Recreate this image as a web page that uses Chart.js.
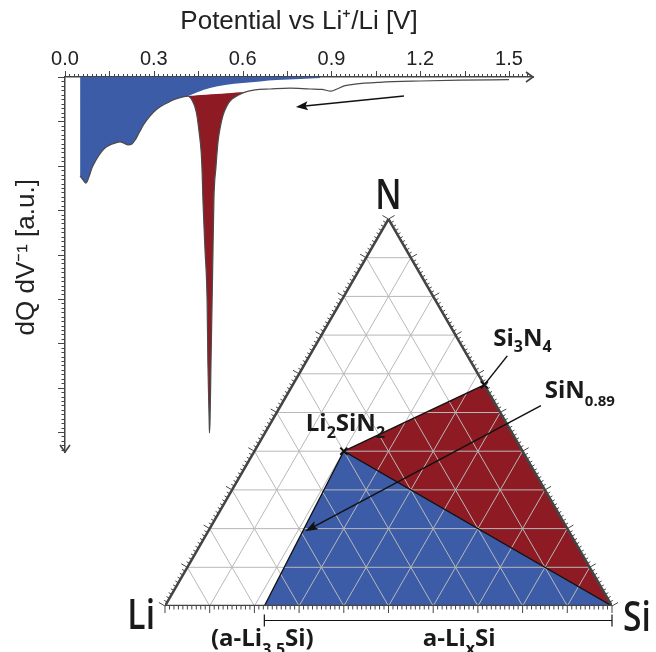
<!DOCTYPE html>
<html><head><meta charset="utf-8">
<script src="https://cdn.jsdelivr.net/npm/chart.js@4.4.1/dist/chart.umd.min.js"></script>
<style>
html,body{margin:0;padding:0;background:#fff;}
#wrap{position:relative;width:656px;height:652px;overflow:hidden;}
#wrap canvas{position:absolute;left:0;top:0;}
</style></head><body>
<div id="wrap"><canvas id="dq" width="656" height="652"></canvas><canvas id="tern" width="656" height="652"></canvas></div>
<script>
// ---------------- dQ/dV curve ----------------
const potential = [0.051,0.061,0.071,0.081,0.091,0.105,0.118,0.135,0.152,0.169,0.186,0.199,0.213,0.226,0.237,0.250,0.267,0.287,0.311,0.338,0.372,0.416,0.429,0.439,0.446,0.453,0.460,0.463,0.466,0.473,0.480,0.483,0.487,0.488,0.490,0.493,0.497,0.500,0.503,0.510,0.517,0.524,0.534,0.547,0.564,0.585,0.608,0.642,0.693,0.760,0.828,0.868,0.899,0.919,0.943,0.980,1.064,1.199,1.335,1.500];
const dqdv = [-2.23,-2.32,-2.39,-2.25,-2.05,-1.87,-1.73,-1.60,-1.53,-1.49,-1.46,-1.49,-1.53,-1.51,-1.42,-1.26,-1.06,-0.88,-0.72,-0.61,-0.50,-0.43,-0.52,-0.68,-0.88,-1.24,-1.69,-2.10,-2.77,-3.90,-5.02,-6.53,-7.73,-8.02,-7.73,-6.53,-5.02,-3.90,-2.77,-2.03,-1.46,-1.15,-0.86,-0.65,-0.50,-0.41,-0.34,-0.29,-0.27,-0.25,-0.27,-0.28,-0.32,-0.27,-0.20,-0.16,-0.12,-0.09,-0.07,-0.06];
// lower edge of the blue area beyond the start of the sharp peak
const blueTailV = [0.449,0.490,0.541,0.601,0.659,0.716,0.794,0.862];
const blueTailY = [-0.34,-0.25,-0.18,-0.135,-0.10,-0.07,-0.045,-0.02];
// sharp peak (red) bounds in V
const peakRange = [0.416, 0.608];
const xTickLabels = ['0.0','0.3','0.6','0.9','1.2','1.5'];
const xTickValues = [0.0,0.3,0.6,0.9,1.2,1.5];
const sweepArrow = [[1.145,-0.43],[0.78,-0.676]];

// ---------------- ternary Li–Si–N diagram (fractions Li, Si, N) ----------------
const vertexNames = ['Li','Si','N'];
const compLi = [1,0,0], compSi = [0,1,0], compN = [0,0,1];
const compLi2SiN2 = [0.4,0.2,0.4];
const compSi3N4 = [0,3/7,4/7];
const compLi35Si = [3.5/4.5,1/4.5,0];
const compSiN089 = [0,1/1.89,0.89/1.89];
const lithiationPathT = [-0.10, 0.59];   // along SiN0.89 -> Li
const gridFractions = [0.1,0.2,0.3,0.4,0.5,0.6,0.7,0.8,0.9];

const BLUE = '#3c5ca8', RED = '#8e1b23';
const S3 = Math.sqrt(3)/2;
const tern = c => ({x: c[1] + c[2]/2, y: c[2]*S3});

Chart.defaults.font.family = 'Liberation Sans';
Chart.defaults.animation = false;

// ---------------- chart A : dQ/dV ----------------
const curvePts = potential.map((v,i)=>({x:v,y:dqdv[i]}));
const bluePts = curvePts.filter(p=>p.x<=peakRange[0]+1e-9).concat(blueTailV.map((v,i)=>({x:v,y:blueTailY[i]})));
const redPts = curvePts.filter(p=>p.x>=peakRange[0]-1e-9 && p.x<=peakRange[1]+1e-9);
const chordPts = [redPts[0], redPts[redPts.length-1]];

function arrowHead(ctx,x0,y0,x1,y1,len,half){
  const a=Math.atan2(y1-y0,x1-x0), c=Math.cos(a), s=Math.sin(a);
  ctx.beginPath();
  ctx.moveTo(x1,y1);
  ctx.lineTo(x1-len*c+half*s, y1-len*s-half*c);
  ctx.lineTo(x1-len*c*0.8, y1-len*s*0.8);
  ctx.lineTo(x1-len*c-half*s, y1-len*s+half*c);
  ctx.closePath(); ctx.fill();
}
function seg(ctx,a,b,c,d){ctx.beginPath();ctx.moveTo(a,b);ctx.lineTo(c,d);ctx.stroke();}

const dqDecor = {id:'dqDecor', afterDraw(chart){
  const {ctx, scales:{x,y}, chartArea:ca} = chart;
  ctx.save();
  ctx.strokeStyle='#444'; ctx.lineWidth=1;
  for(let i=0;i*0.015<=1.56;i++){
    const px=Math.round(x.getPixelForValue(i*0.015))+0.5;
    seg(ctx,px,ca.top,px,ca.top-(i%10===0?6:3));
  }
  for(let i=0;i*0.1<=8.41;i++){
    const py=Math.round(y.getPixelForValue(-i*0.1))+0.5;
    seg(ctx,ca.left,py,ca.left-(i%10===0?7:3.5),py);
  }
  ctx.lineWidth=1.6;
  ctx.beginPath();ctx.moveTo(ca.right-7,ca.top-5);ctx.lineTo(ca.right,ca.top);ctx.lineTo(ca.right-7,ca.top+5);ctx.stroke();
  ctx.beginPath();ctx.moveTo(ca.left-5,ca.bottom-7);ctx.lineTo(ca.left,ca.bottom);ctx.lineTo(ca.left+5,ca.bottom-7);ctx.stroke();
  const x0=x.getPixelForValue(sweepArrow[0][0]), y0=y.getPixelForValue(sweepArrow[0][1]);
  const x1=x.getPixelForValue(sweepArrow[1][0]), y1=y.getPixelForValue(sweepArrow[1][1]);
  ctx.strokeStyle='#111'; ctx.fillStyle='#111'; ctx.lineWidth=1.5;
  const a=Math.atan2(y1-y0,x1-x0);
  seg(ctx,x0,y0,x1-9*Math.cos(a),y1-9*Math.sin(a));
  arrowHead(ctx,x0,y0,x1,y1,12,4.5);
  ctx.restore();
}};

new Chart(document.getElementById('dq'), {
  type:'scatter',
  data:{datasets:[
    {label:'dQ/dV', data:curvePts, showLine:true, borderColor:'#4a4a4a', borderWidth:1.2, pointRadius:0, fill:false, order:0, cubicInterpolationMode:'monotone'},
    {label:'blue', data:bluePts, showLine:true, borderColor:'transparent', borderWidth:0, backgroundColor:BLUE, pointRadius:0, fill:'origin', order:2, cubicInterpolationMode:'monotone'},
    {label:'red', data:redPts, showLine:true, borderColor:'transparent', borderWidth:0, backgroundColor:RED, pointRadius:0, fill:{target:3}, order:2, cubicInterpolationMode:'monotone'},
    {label:'chord', data:chordPts, showLine:true, borderColor:'transparent', borderWidth:0, pointRadius:0, fill:false, order:3, tension:0.0001}
  ]},
  options:{
    responsive:false, devicePixelRatio:1, events:[],
    layout:{padding:{left:0,top:0,right:123,bottom:200}},
    plugins:{legend:{display:false},tooltip:{enabled:false}},
    scales:{
      x:{type:'linear', position:'top', min:0, max:1.581,
        afterFit:s=>{s.height=77;},
        grid:{drawOnChartArea:false, drawTicks:false},
        border:{display:true,color:'#444',width:1.5},
        ticks:{stepSize:0.3, includeBounds:false, autoSkip:false, maxRotation:0, minRotation:0, padding:6, color:'#222', font:{size:20},
          callback:v=>{const k=xTickValues.findIndex(t=>Math.abs(t-v)<1e-6);return k<0?'':xTickLabels[k];}},
        title:{display:true, text:'Potential vs Li\u207A/Li [V]', color:'#222', font:{size:26}, padding:{top:6,bottom:0}}
      },
      y:{type:'linear', position:'left', min:-8.45, max:0,
        afterFit:s=>{s.width=65;},
        grid:{drawOnChartArea:false, drawTicks:false},
        border:{display:true,color:'#444',width:1.5},
        ticks:{display:false},
        title:{display:true, text:'  dQ dV\u207B\u00B9 [a.u.]', color:'#222', font:{size:26}, padding:11}
      }
    }
  },
  plugins:[dqDecor]
});

// ---------------- chart B : ternary ----------------
const gridSegs = [];
gridFractions.forEach(f=>{
  gridSegs.push([[1-f,0,f],[0,1-f,f]]);
  gridSegs.push([[f,1-f,0],[f,0,1-f]]);
  gridSegs.push([[1-f,f,0],[0,f,1-f]]);
});

function drawRich(ctx, runs, x, y, align, mainFont, subFont, drop){
  let w=0;
  runs.forEach(r=>{ctx.font=r[1]?subFont:mainFont; w+=ctx.measureText(r[0]).width;});
  let cx = align==='center'? x-w/2 : align==='right'? x-w : x;
  runs.forEach(r=>{ctx.font=r[1]?subFont:mainFont; ctx.fillText(r[0],cx,y+(r[1]?drop:0)); cx+=ctx.measureText(r[0]).width;});
}
function drawScaled(ctx,text,x,y,align,font,hs){
  ctx.save(); ctx.font=font; const w=ctx.measureText(text).width*hs;
  const sx = align==='center'? x-w/2 : align==='right'? x-w : x;
  ctx.translate(sx,y); ctx.scale(hs,1); ctx.fillText(text,0,0); ctx.restore();
}

const ternDecor = {id:'ternDecor', afterDraw(chart){
  const {ctx, scales:{x,y}} = chart;
  const P = c=>{const t=tern(c);return [x.getPixelForValue(t.x), y.getPixelForValue(t.y)];};
  const A=P(compLi), B=P(compSi), C=P(compN);
  ctx.save();
  ctx.strokeStyle='#444'; ctx.lineWidth=1;
  const edges=[[A,B,[0,1]],[A,C,[-S3,-0.5]],[B,C,[S3,-0.5]]];
  edges.forEach(([p,q,n])=>{
    for(let k=0;k<=100;k++){
      const px=p[0]+(q[0]-p[0])*k/100, py=p[1]+(q[1]-p[1])*k/100;
      const L = k%10===0?7:3.5;
      seg(ctx,px,py,px+n[0]*L,py+n[1]*L);
    }
  });
  const s0=P(compSiN089);
  const at=t=>[s0[0]+(A[0]-s0[0])*t, s0[1]+(A[1]-s0[1])*t];
  const a0=at(lithiationPathT[0]), a1=at(lithiationPathT[1]);
  ctx.strokeStyle='#111'; ctx.fillStyle='#111'; ctx.lineWidth=1.5;
  const ang=Math.atan2(a1[1]-a0[1],a1[0]-a0[0]);
  seg(ctx,a0[0],a0[1],a1[0]-9*Math.cos(ang),a1[1]-9*Math.sin(ang));
  arrowHead(ctx,a0[0],a0[1],a1[0],a1[1],13,4.5);
  const q=P(compSi3N4);
  seg(ctx,q[0],q[1],q[0]+23,q[1]-29);
  const b0=P(compLi35Si);
  const by=b0[1]+14.5;
  ctx.lineWidth=1.2;
  seg(ctx,b0[0],by,B[0],by); seg(ctx,b0[0],by-6,b0[0],by+6); seg(ctx,B[0],by-6,B[0],by+6);
  ctx.fillStyle='#1a1a1a'; ctx.textBaseline='alphabetic';
  const big='600 42px "Open Sans"';
  drawScaled(ctx,vertexNames[2],C[0],C[1]-10,'center',big,0.8);
  drawScaled(ctx,vertexNames[0],A[0]-10,A[1]+23,'right',big,0.8);
  drawScaled(ctx,vertexNames[1],B[0]+11,B[1]+25,'left',big,0.8);
  const mf='700 24px "Open Sans"', sf='700 16px "Open Sans"', sf2='700 15px "Open Sans"';
  const l=P(compLi2SiN2);
  drawRich(ctx,[['Li',0],['2',1],['SiN',0],['2',1]],l[0]-38,l[1]-20,'left',mf,sf,7);
  drawRich(ctx,[['Si',0],['3',1],['N',0],['4',1]],q[0]+9,q[1]-39,'left',mf,sf,6);
  drawRich(ctx,[['SiN',0],['0.89',1]],s0[0]+38,s0[1]-26,'left',mf,sf2,8);
  drawRich(ctx,[['(a-Li',0],['3.5',1],['Si)',0]],b0[0]-2,b0[1]+40,'center',mf,sf,9);
  drawRich(ctx,[['a-Li',0],['x',1],['Si',0]],(b0[0]+B[0])/2+21,b0[1]+40,'center',mf,sf,8);
  ctx.restore();
}};

const tDatasets = [
  {label:'red region', data:[compLi2SiN2,compSi3N4,compSi].map(tern), fill:{target:1}, backgroundColor:RED, borderColor:'transparent', borderWidth:0, order:10},
  {label:'red base', data:[compLi2SiN2,compSi].map(tern), fill:false, borderColor:'transparent', borderWidth:0, order:10},
  {label:'blue region', data:[compLi35Si,compLi2SiN2,compSi].map(tern), fill:'origin', backgroundColor:BLUE, borderColor:'transparent', borderWidth:0, order:10}
];
gridSegs.forEach(g=>tDatasets.push({data:g.map(tern), borderColor:'#b8b8b8', borderWidth:1, fill:false, order:5}));
tDatasets.push({label:'boundary1', data:[compLi35Si,compLi2SiN2,compSi].map(tern), borderColor:'#111', borderWidth:1.3, fill:false, order:3});
tDatasets.push({label:'boundary2', data:[compLi2SiN2,compSi3N4].map(tern), borderColor:'#111', borderWidth:1.3, fill:false, order:3});
tDatasets.push({label:'edges', data:[compLi,compSi,compN,compLi].map(tern), borderColor:'#444', borderWidth:2.5, fill:false, order:2, borderJoinStyle:'miter'});
tDatasets.forEach(d=>{d.showLine=true; d.pointRadius=0;});
tDatasets.push({label:'phases', data:[compLi2SiN2,compSi3N4].map(tern), showLine:false, pointStyle:'crossRot', pointRadius:5, borderWidth:2, borderColor:'#111', order:1});

new Chart(document.getElementById('tern'), {
  type:'scatter',
  data:{datasets:tDatasets},
  options:{
    responsive:false, devicePixelRatio:1, events:[],
    layout:{padding:{left:165,top:219,right:44,bottom:46}},
    plugins:{legend:{display:false},tooltip:{enabled:false}},
    scales:{
      x:{type:'linear', min:0, max:1, display:false},
      y:{type:'linear', min:0, max:S3, display:false}
    }
  },
  plugins:[ternDecor]
});
</script>
</body></html>
